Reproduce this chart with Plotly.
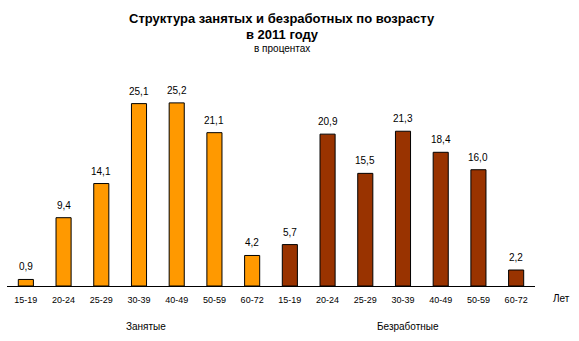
import plotly.graph_objects as go

age_groups = ["15-19", "20-24", "25-29", "30-39", "40-49", "50-59", "60-72"]
employed = [0.9, 9.4, 14.1, 25.1, 25.2, 21.1, 4.2]
unemployed = [5.7, 20.9, 15.5, 21.3, 18.4, 16.0, 2.2]
group_names = ["Занятые", "Безработные"]
title_line1 = "Структура занятых и безработных по возрасту"
title_line2 = "в 2011 году"
subtitle = "в процентах"
unit_label = "Лет"

n = len(age_groups)
x_emp = list(range(n))
x_unemp = list(range(n, 2 * n))

def fmt(v):
    return f"{v:.1f}".replace(".", ",")

FONT = "Liberation Sans, Arial, sans-serif"

W, H = 579, 341
ML, MR, MT, MB = 7, 44, 68, 55
plot_w = W - ML - MR
plot_h = H - MT - MB

def px_x(x):
    return (x - ML) / plot_w

def px_y(y):
    return (H - MB - y) / plot_h

fig = go.Figure()
fig.add_trace(go.Bar(
    x=x_emp, y=employed, width=0.4,
    marker=dict(color="#FF9900", line=dict(color="black", width=1)),
    showlegend=False, hoverinfo="x+y",
))
fig.add_trace(go.Bar(
    x=x_unemp, y=unemployed, width=0.4,
    marker=dict(color="#993300", line=dict(color="black", width=1)),
    showlegend=False, hoverinfo="x+y",
))

annotations = []
for xs, ys in ((x_emp, employed), (x_unemp, unemployed)):
    for xv, yv in zip(xs, ys):
        annotations.append(dict(
            text=fmt(yv), x=xv, y=yv, xref="x", yref="y",
            xanchor="center", yanchor="bottom", yshift=5,
            showarrow=False, font=dict(size=10),
        ))

annotations += [
    dict(text="<b>" + title_line1 + "</b>", x=px_x(282), y=px_y(18), xref="paper", yref="paper",
         xanchor="center", yanchor="middle", showarrow=False, font=dict(size=13)),
    dict(text="<b>" + title_line2 + "</b>", x=px_x(282), y=px_y(34), xref="paper", yref="paper",
         xanchor="center", yanchor="middle", showarrow=False, font=dict(size=13)),
    dict(text=subtitle, x=px_x(282), y=px_y(49), xref="paper", yref="paper",
         xanchor="center", yanchor="middle", showarrow=False, font=dict(size=10)),
    dict(text=group_names[0], x=px_x(146), y=px_y(326), xref="paper", yref="paper",
         xanchor="center", yanchor="middle", showarrow=False, font=dict(size=10)),
    dict(text=group_names[1], x=px_x(408), y=px_y(326), xref="paper", yref="paper",
         xanchor="center", yanchor="middle", showarrow=False, font=dict(size=10)),
    dict(text=unit_label, x=px_x(561), y=px_y(298), xref="paper", yref="paper",
         xanchor="center", yanchor="middle", showarrow=False, font=dict(size=10)),
]

fig.update_layout(
    width=W, height=H,
    margin=dict(l=ML, r=MR, t=MT, b=MB),
    plot_bgcolor="white", paper_bgcolor="white",
    font=dict(family=FONT, color="black", size=10),
    xaxis=dict(
        range=[-0.5, 2 * n - 0.5],
        tickvals=x_emp + x_unemp,
        ticktext=age_groups + age_groups,
        tickfont=dict(size=9),
        showline=True, linecolor="black", linewidth=1,
        showgrid=False, zeroline=False,
        ticks="outside", ticklen=5, tickcolor="rgba(0,0,0,0)",
    ),
    yaxis=dict(range=[0, 30], visible=False, showgrid=False, zeroline=False),
    annotations=annotations,
)

fig.write_html("out.html")
